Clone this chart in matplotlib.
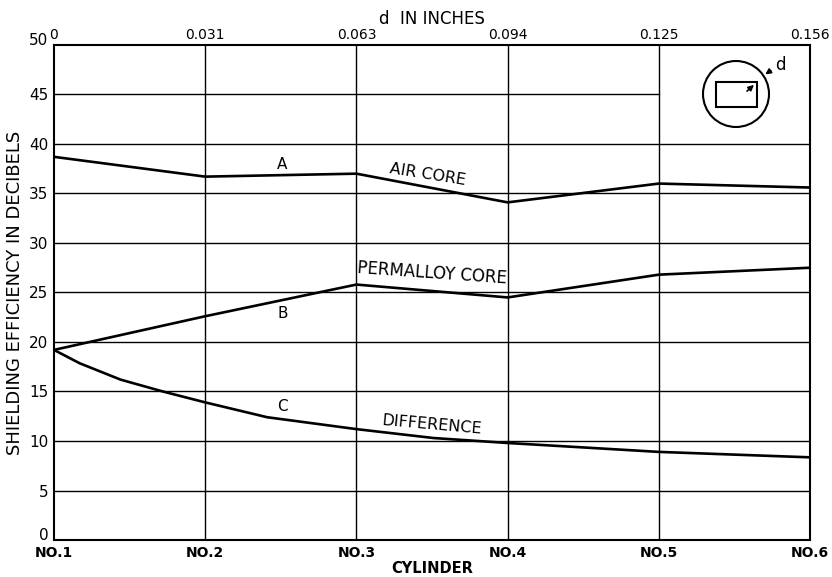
import numpy as np
import matplotlib.pyplot as plt
from matplotlib.patches import Circle, Rectangle

# cylinder positions and labels
cyl = [1, 2, 3, 4, 5, 6]
cyl_labels = ['NO.1', 'NO.2', 'NO.3', 'NO.4', 'NO.5', 'NO.6']
d_labels = ['0', '0.031', '0.063', '0.094', '0.125', '0.156']

# A - air core, B - permalloy core (read at each cylinder)
air_core = [38.7, 36.7, 37.0, 34.1, 36.0, 35.6]
permalloy = [19.2, 22.6, 25.8, 24.5, 26.8, 27.5]

# C - difference
diff_x = [1, 1.17, 1.44, 1.72, 2, 2.41, 3, 3.51, 4, 5, 6]
diff_y = [19.2, 17.85, 16.2, 15.0, 13.9, 12.4, 11.2, 10.3, 9.8, 8.9, 8.35]

plt.rcParams['font.family'] = 'DejaVu Sans'
fig = plt.figure(figsize=(8.32, 5.77), dpi=100)
ax = fig.add_axes([0.0649, 0.0641, 0.9087, 0.858])

ax.set_xlim(1, 6)
ax.set_ylim(0, 50)

# grid drawn by hand, 45 line stops short of the inset sketch
for y in range(5, 50, 5):
    xe = 5 if y == 45 else 6
    ax.plot([1, xe], [y, y], color='black', lw=1.0, zorder=1)
for x in cyl[1:-1]:
    ax.plot([x, x], [0, 50], color='black', lw=1.0, zorder=1)

ax.plot(cyl, air_core, color='black', lw=1.9, zorder=3, solid_joinstyle='round')
ax.plot(cyl, permalloy, color='black', lw=1.9, zorder=3, solid_joinstyle='round')
ax.plot(diff_x, diff_y, color='black', lw=1.9, zorder=3, solid_joinstyle='round')

# curve labels
ax.text(2.51, 37.9, 'A', ha='center', va='center', fontsize=11)
ax.text(3.47, 36.9, 'AIR CORE', ha='center', va='center', fontsize=11.5, rotation=-9)
ax.text(2.51, 22.9, 'B', ha='center', va='center', fontsize=11)
ax.text(3.5, 26.9, 'PERMALLOY CORE', ha='center', va='center', fontsize=12, rotation=-4)
ax.text(2.51, 13.5, 'C', ha='center', va='center', fontsize=11)
ax.text(3.5, 11.65, 'DIFFERENCE', ha='center', va='center', fontsize=11.5, rotation=-5)

for s in ax.spines.values():
    s.set_linewidth(1.5)

ax.set_xticks(cyl)
ax.set_xticklabels(cyl_labels, fontsize=10, fontweight='bold')
ax.set_yticks(range(0, 51, 5))
ax.set_yticklabels([str(v) for v in range(0, 51, 5)], fontsize=11)
ylabs = ax.get_yticklabels()
ylabs[0].set_va('baseline')
ylabs[-1].set_va('baseline')
ax.tick_params(length=0, pad=4)
ax.set_xlabel('CYLINDER', fontsize=10.5, fontweight='bold', labelpad=1)
ax.set_ylabel('SHIELDING EFFICIENCY IN DECIBELS', fontsize=13, labelpad=4)

top = ax.twiny()
top.set_xlim(1, 6)
top.set_xticks(cyl)
top.set_xticklabels(d_labels, fontsize=10)
top.tick_params(length=0, pad=2)
top.set_xlabel('d  IN INCHES', fontsize=12, labelpad=3)
for s in top.spines.values():
    s.set_visible(False)

# inset sketch: circle with rectangle and thickness d
ins = fig.add_axes([695 / 832, 1 - 137 / 577, 85 / 832, 85 / 577])
ins.set_xlim(695, 780)
ins.set_ylim(137, 52)
ins.set_aspect('equal')
ins.axis('off')
ins.add_patch(Circle((736, 94), 33, fill=False, lw=1.5, color='black'))
ins.add_patch(Rectangle((715.5, 82), 41, 24.5, fill=False, lw=1.5, color='black'))
ins.annotate('', xy=(756, 83), xytext=(745, 93),
             arrowprops=dict(arrowstyle='-|>', color='black', lw=1.2, mutation_scale=8))
ins.annotate('', xy=(763, 76), xytext=(773, 69),
             arrowprops=dict(arrowstyle='-|>', color='black', lw=1.2, mutation_scale=8))
ins.text(775, 65, 'd', fontsize=12, ha='left', va='center')

plt.savefig('out.png', dpi=100)
